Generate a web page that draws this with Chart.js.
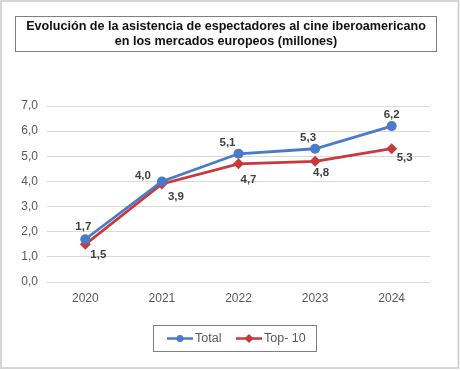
<!DOCTYPE html>
<html><head><meta charset="utf-8">
<script src="https://cdn.jsdelivr.net/npm/chart.js@4/dist/chart.umd.min.js"></script>
<style>html,body{margin:0;padding:0;background:#fff}#wrap{width:460px;height:370px;position:relative}</style>
</head><body><div id="wrap"><canvas id="c" width="460" height="370"></canvas></div>
<script>
const titleLines = ["Evolución de la asistencia de espectadores al cine iberoamericano", "en los mercados europeos (millones)"];
const categories = ["2020", "2021", "2022", "2023", "2024"];
const totalValues = [1.7, 4.0, 5.1, 5.3, 6.2];
const top10Values = [1.5, 3.9, 4.7, 4.8, 5.3];
const yTicks = [0, 1, 2, 3, 4, 5, 6, 7];

const FONT = "'Liberation Sans', Arial, sans-serif";
const BLUE = '#4a7bc8', RED = '#c8383c';
const fmt = v => v.toFixed(1).replace('.', ',');

// label offsets (styling) per dataset per point
const labelOffsets = [
  [[-2,-12],[-19,-6],[-11,-11],[-7,-11],[0,-11]],
  [[13,11],[14,13],[10,16],[6,12],[13,9]]
];

const decor = {
  id: 'decor',
  beforeDraw(chart) {
    const ctx = chart.ctx;
    ctx.save();
    ctx.fillStyle = '#fff';
    ctx.fillRect(0, 0, 460, 370);
    ctx.strokeStyle = '#c9c9c9';
    ctx.lineWidth = 1.5;
    ctx.strokeRect(1, 1, 457.5, 367);
    // title box
    ctx.strokeStyle = '#808080';
    ctx.lineWidth = 1;
    ctx.strokeRect(15.5, 16.5, 421, 35);
    ctx.fillStyle = '#111';
    ctx.font = 'bold 12.6px ' + FONT;
    ctx.textAlign = 'center';
    ctx.textBaseline = 'middle';
    ctx.fillText(titleLines[0], 226, 27);
    ctx.fillText(titleLines[1], 226, 42);
    ctx.restore();
  },
  afterDatasetsDraw(chart) {
    const ctx = chart.ctx;
    ctx.save();
    ctx.font = 'bold 11.5px ' + FONT;
    ctx.fillStyle = '#404040';
    ctx.textAlign = 'center';
    ctx.textBaseline = 'middle';
    chart.data.datasets.forEach((ds, di) => {
      const meta = chart.getDatasetMeta(di);
      meta.data.forEach((pt, i) => {
        const o = labelOffsets[di][i];
        ctx.fillText(fmt(ds.data[i]), pt.x + o[0], pt.y + o[1]);
      });
    });
    // legend
    ctx.strokeStyle = '#7f7f7f';
    ctx.lineWidth = 1;
    ctx.strokeRect(153.5, 325.5, 163, 26);
    const items = [
      {x: 167, color: BLUE, style: 'circle', label: chart.data.datasets[0].label},
      {x: 236, color: RED, style: 'rectRot', label: chart.data.datasets[1].label}
    ];
    ctx.font = '12.5px ' + FONT;
    ctx.textAlign = 'left';
    items.forEach(it => {
      ctx.strokeStyle = it.color;
      ctx.lineWidth = 2.5;
      ctx.beginPath(); ctx.moveTo(it.x, 338.5); ctx.lineTo(it.x + 26, 338.5); ctx.stroke();
      ctx.fillStyle = it.color;
      ctx.beginPath();
      if (it.style === 'circle') { ctx.arc(it.x + 13, 338.5, 3.5, 0, Math.PI * 2); }
      else { ctx.moveTo(it.x + 13, 334); ctx.lineTo(it.x + 17.5, 338.5); ctx.lineTo(it.x + 13, 343); ctx.lineTo(it.x + 8.5, 338.5); ctx.closePath(); }
      ctx.fill();
      ctx.fillStyle = '#595959';
      ctx.fillText(it.label, it.x + 28, 339);
    });
    ctx.restore();
  }
};

new Chart(document.getElementById('c'), {
  type: 'line',
  data: {
    labels: categories,
    datasets: [
      {label: 'Total', data: totalValues, borderColor: BLUE, backgroundColor: BLUE, borderWidth: 2.8,
       pointStyle: 'circle', pointRadius: 5, pointBorderWidth: 0, tension: 0},
      {label: 'Top- 10', data: top10Values, borderColor: RED, backgroundColor: RED, borderWidth: 2.8,
       pointStyle: 'rectRot', pointRadius: 5.5, pointBorderWidth: 0, tension: 0}
    ]
  },
  options: {
    responsive: false,
    animation: false,
    devicePixelRatio: 1,
    layout: {padding: {left: 0, right: 30, top: 106, bottom: 58}},
    plugins: {legend: {display: false}, title: {display: false}, tooltip: {enabled: false}},
    scales: {
      x: {
        offset: true,
        grid: {display: false},
        border: {display: false},
        ticks: {color: '#595959', font: {family: FONT, size: 12}, padding: 1},
        afterFit(s) { s.height = 30; }
      },
      y: {
        min: 0, max: 7,
        afterBuildTicks(s) { s.ticks = yTicks.map(v => ({value: v})); },
        grid: {color: '#d9d9d9', lineWidth: 1, drawTicks: false},
        border: {display: false},
        ticks: {color: '#595959', font: {family: FONT, size: 12}, padding: 9, callback: v => fmt(v)},
        afterFit(s) { s.width = 47; }
      }
    }
  },
  plugins: [decor]
});
</script>
</body></html>
